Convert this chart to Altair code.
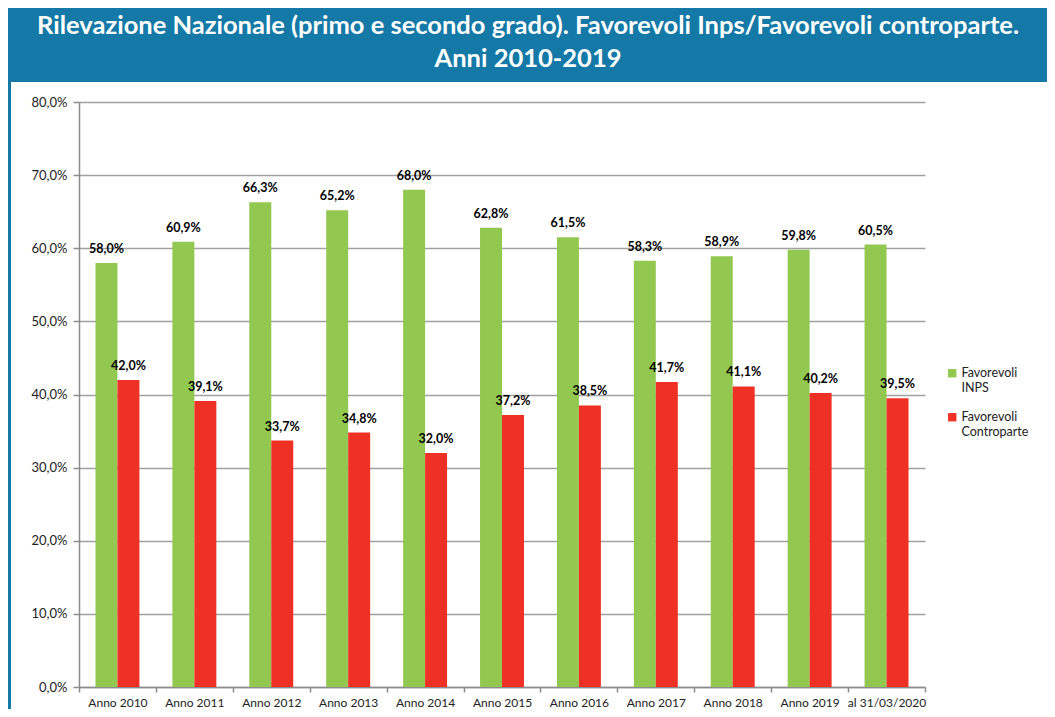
import altair as alt
import pandas as pd

categories = ["Anno 2010", "Anno 2011", "Anno 2012", "Anno 2013", "Anno 2014", "Anno 2015",
              "Anno 2016", "Anno 2017", "Anno 2018", "Anno 2019", "al 31/03/2020"]
favorevoli_inps = [58.0, 60.9, 66.3, 65.2, 68.0, 62.8, 61.5, 58.3, 58.9, 59.8, 60.5]
favorevoli_controparte = [42.0, 39.1, 33.7, 34.8, 32.0, 37.2, 38.5, 41.7, 41.1, 40.2, 39.5]
series_names = ["Favorevoli INPS", "Favorevoli Controparte"]
series_colors = ["#92c84f", "#ee3124"]
y_ticks = [0, 10, 20, 30, 40, 50, 60, 70, 80]
title_lines = ["Rilevazione Nazionale (primo e secondo grado). Favorevoli Inps/Favorevoli controparte.",
               "Anni 2010-2019"]

rows = []
for c, a, b in zip(categories, favorevoli_inps, favorevoli_controparte):
    rows.append({"cat": c, "serie": series_names[0], "val": a})
    rows.append({"cat": c, "serie": series_names[1], "val": b})
df = pd.DataFrame(rows)

W, H = 846, 585
FONT = "Lato"

x_enc = alt.X("cat:N", sort=categories, title=None,
              scale=alt.Scale(paddingInner=0, paddingOuter=0),
              axis=alt.Axis(labelAngle=0, labelFontSize=12, labelColor="#222222", labelFont=FONT,
                            labelPadding=5, tickBand="extent", tickSize=5, tickColor="#8c8c8c",
                            domainColor="#8c8c8c", domainWidth=1.5, tickWidth=1.5, grid=False))
xoff = alt.XOffset("serie:N", sort=series_names, scale=alt.Scale(paddingOuter=0.75, paddingInner=0))
y_enc = alt.Y("val:Q", title=None,
              scale=alt.Scale(domain=[0, 80], nice=False),
              axis=alt.Axis(values=y_ticks, labelExpr="replace(format(datum.value, '.1f'), '.', ',') + '%'",
                            labelFontSize=13, labelColor="#222222", labelFont=FONT, labelPadding=6,
                            tickSize=6, tickColor="#8c8c8c", tickWidth=1.5,
                            domainColor="#8c8c8c", domainWidth=1.5,
                            gridColor="#a0a0a0", gridWidth=1.5))

base = alt.Chart(df).encode(x=x_enc, xOffset=xoff, y=y_enc)

bars = base.mark_bar().encode(
    color=alt.Color("serie:N", sort=series_names,
                    scale=alt.Scale(domain=series_names, range=series_colors),
                    legend=alt.Legend(title=None, orient="none", legendX=867, legendY=265,
                                      symbolType="square", symbolSize=70, symbolStrokeWidth=0,
                                      labelExpr="split(datum.label, ' ')", labelFontSize=12.5,
                                      labelFont=FONT, labelColor="#222222",
                                      labelBaseline="middle", labelOffset=3, rowPadding=16))
)

labels = base.mark_text(baseline="bottom", dy=-7, fontSize=12.5, fontWeight="bold",
                        font=FONT, color="#000000").encode(
    text=alt.Text("lab:N")
).transform_calculate(lab="replace(format(datum.val, '.1f'), '.', ',') + '%'")

banner = alt.Chart(pd.DataFrame({"k": [0]})).mark_rect(color="#1479a6").encode(
    x=alt.value(-71), x2=alt.value(968), y=alt.value(-94), y2=alt.value(-20))
border = alt.Chart(pd.DataFrame({"k": [0]})).mark_rect(color="#1479a6").encode(
    x=alt.value(-71), x2=alt.value(-68), y=alt.value(-20), y2=alt.value(620))
title = alt.Chart(pd.DataFrame({"k": [0]})).mark_text(
    font="Lato", fontSize=25.5, fontWeight="bold", color="white",
    align="center", baseline="middle", lineHeight=33).encode(
    x=alt.value(449), y=alt.value(-76), text=alt.value(title_lines))

chart = alt.layer(bars, labels, banner, border, title).properties(
    width=W, height=H,
    autosize=alt.AutoSizeParams(type="none"),
    padding={"left": 71, "top": 94, "right": 122, "bottom": 22},
    background="white",
).configure_view(stroke=None)

chart.save("out.html", embed_options={"renderer": "svg", "actions": False})
